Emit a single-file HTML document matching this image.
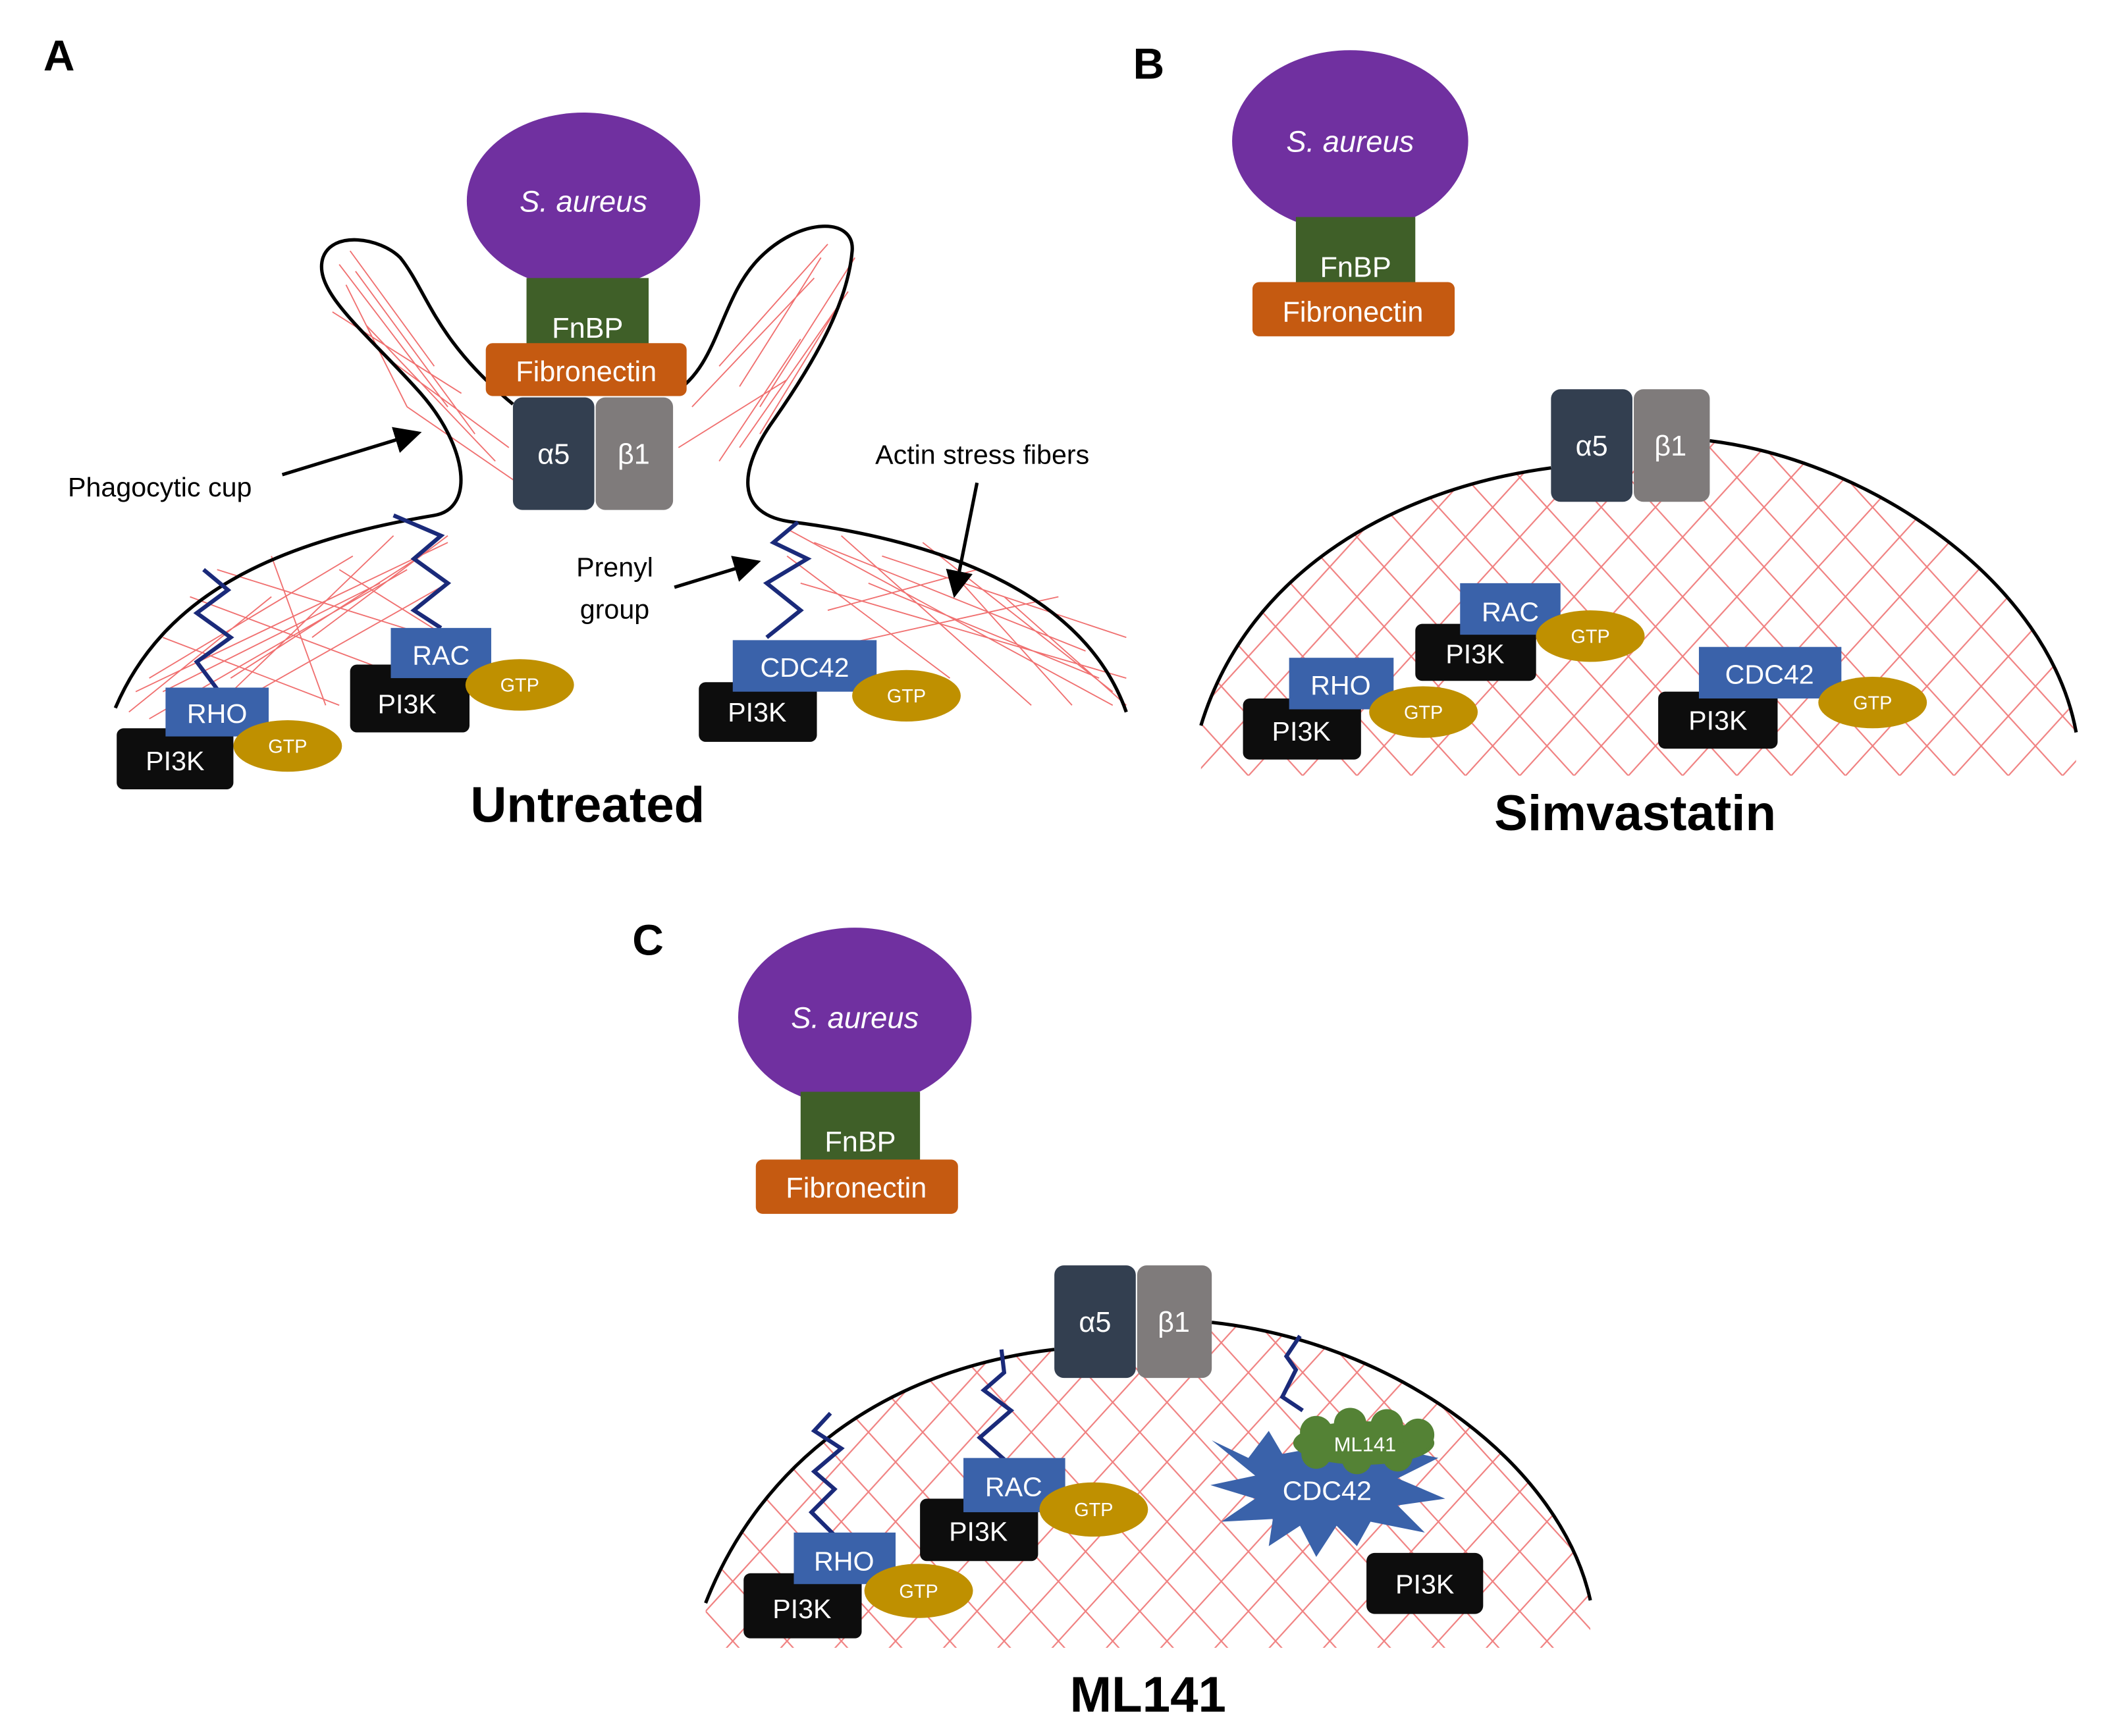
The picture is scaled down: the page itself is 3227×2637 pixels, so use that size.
<!DOCTYPE html>
<html><head><meta charset="utf-8"><style>
html,body{margin:0;padding:0;background:#fff}
svg{display:block}
text{font-family:"Liberation Sans",sans-serif}
</style></head><body>
<svg width="3227" height="2637" viewBox="0 0 1566 1280" preserveAspectRatio="none" xmlns="http://www.w3.org/2000/svg">
<defs>
<pattern id="hx" width="40" height="40" patternUnits="userSpaceOnUse" patternTransform="scale(1,1.1)">
<path d="M0,0 L40,40 M40,0 L0,40" stroke="#f08080" stroke-width="1"/>
</pattern>
<clipPath id="cb"><path d="M885,535 C920,420 1030,360 1143,345 L1260,325 C1380,340 1510,430 1530,540 L1530,572 L885,572 Z"/></clipPath>
<clipPath id="cc"><path d="M520,1182 C560,1080 650,1010 777,995 L893,975 C1030,990 1150,1080 1172,1180 L1172,1215 L520,1215 Z"/></clipPath>
<marker id="ar" markerWidth="8" markerHeight="8" refX="6" refY="4" orient="auto" markerUnits="strokeWidth"><path d="M0,0 L8,4 L0,8 Z" fill="#000"/></marker>
</defs>

<!-- PANEL A -->
<text x="32" y="52" font-size="32" font-weight="bold">A</text>
<g stroke="#f07070" stroke-width="0.9" fill="none">
<path d="M250,195 L330,300 M262,200 L350,320 M245,230 L340,290 M270,240 L365,340 M255,210 L300,300 M280,260 L375,330 M300,300 L380,355 M258,185 L320,270"/>
<path d="M100,510 L330,400 M110,530 L300,420 M120,470 L250,520 M140,440 L300,500 M160,420 L320,470 M180,515 L330,430 M200,410 L240,520 M110,500 L260,410 M230,470 L330,395 M95,525 L200,440 M150,530 L290,395 M250,420 L330,470 M120,510 L280,430 M170,500 L310,410"/>
<path d="M630,190 L560,300 M610,180 L530,270 M625,215 L545,330 M600,205 L510,300 M590,250 L530,340 M580,280 L500,330 M615,230 L560,320 M605,190 L545,285"/>
<path d="M580,390 L820,520 M600,400 L800,480 M590,430 L830,500 M620,395 L760,520 M650,410 L830,470 M700,420 L790,520 M580,410 L700,500 M610,450 L720,420 M680,400 L820,510 M740,440 L830,520 M600,480 L780,440 M640,430 L810,500"/>
</g>
<path d="M85,522 C120,440 200,400 320,380 C350,375 345,330 310,290 C270,245 230,215 238,190 C245,170 280,175 295,190 C315,215 320,250 378,298" fill="none" stroke="#000" stroke-width="2.5"/>
<path d="M496,290 C530,270 530,220 560,190 C590,160 630,160 628,185 C625,220 605,260 570,310 C545,345 540,380 585,385 C700,400 800,440 830,525" fill="none" stroke="#000" stroke-width="2.5"/>
<g fill="none" stroke="#1a2a7a" stroke-width="3">
<polyline points="160,508 145,488 170,470 145,452 168,435 150,420"/>
<polyline points="325,463 305,450 330,430 305,412 325,395 290,380"/>
<polyline points="565,470 590,450 565,430 595,412 570,400 588,385"/>
</g>
<ellipse cx="430" cy="148" rx="86" ry="65" fill="#7030a0"/>
<text x="430" y="156" font-size="22" font-style="italic" fill="#fff" text-anchor="middle">S. aureus</text>
<rect x="388" y="205" width="90" height="52" fill="#3f5f28"/>
<text x="433" y="249" font-size="21" fill="#fff" text-anchor="middle">FnBP</text>
<rect x="358" y="253" width="148" height="39" rx="5" fill="#c55a11"/>
<text x="432" y="281" font-size="21" fill="#fff" text-anchor="middle">Fibronectin</text>
<rect x="378" y="293" width="60" height="83" rx="7" fill="#333f50"/>
<rect x="439" y="293" width="57" height="83" rx="7" fill="#7f7b7b"/>
<text x="408" y="342" font-size="21" fill="#fff" text-anchor="middle">α5</text>
<text x="467" y="342" font-size="21" fill="#fff" text-anchor="middle">β1</text>

<rect x="86" y="537" width="86" height="45" rx="5" fill="#0d0d0d"/>
<text x="129" y="568" font-size="20" fill="#fff" text-anchor="middle">PI3K</text>
<rect x="122" y="507" width="76" height="36" fill="#3a62aa"/>
<text x="160" y="533" font-size="20" fill="#fff" text-anchor="middle">RHO</text>
<ellipse cx="212" cy="550" rx="40" ry="19" fill="#bf9000"/>
<text x="212" y="555" font-size="14" fill="#fff" text-anchor="middle">GTP</text>

<rect x="258" y="490" width="88" height="50" rx="5" fill="#0d0d0d"/>
<text x="300" y="526" font-size="20" fill="#fff" text-anchor="middle">PI3K</text>
<rect x="288" y="463" width="74" height="37" fill="#3a62aa"/>
<text x="325" y="490" font-size="20" fill="#fff" text-anchor="middle">RAC</text>
<ellipse cx="383" cy="505" rx="40" ry="19" fill="#bf9000"/>
<text x="383" y="510" font-size="14" fill="#fff" text-anchor="middle">GTP</text>

<rect x="515" y="503" width="87" height="44" rx="5" fill="#0d0d0d"/>
<text x="558" y="532" font-size="20" fill="#fff" text-anchor="middle">PI3K</text>
<rect x="540" y="472" width="106" height="38" fill="#3a62aa"/>
<text x="593" y="499" font-size="20" fill="#fff" text-anchor="middle">CDC42</text>
<ellipse cx="668" cy="513" rx="40" ry="19" fill="#bf9000"/>
<text x="668" y="518" font-size="14" fill="#fff" text-anchor="middle">GTP</text>

<text x="433" y="606" font-size="37" font-weight="bold" text-anchor="middle">Untreated</text>
<text x="50" y="366" font-size="20">Phagocytic cup</text>
<line x1="208" y1="350" x2="306" y2="320" stroke="#000" stroke-width="2.5" marker-end="url(#ar)"/>
<text x="645" y="342" font-size="20">Actin stress fibers</text>
<line x1="720" y1="356" x2="704" y2="436" stroke="#000" stroke-width="2.5" marker-end="url(#ar)"/>
<text x="453" y="425" font-size="20" text-anchor="middle">Prenyl</text>
<text x="453" y="456" font-size="20" text-anchor="middle">group</text>
<line x1="497" y1="433" x2="556" y2="415" stroke="#000" stroke-width="2.5" marker-end="url(#ar)"/>

<!-- PANEL B -->
<text x="835" y="58" font-size="32" font-weight="bold">B</text>
<rect x="880" y="320" width="660" height="260" fill="url(#hx)" clip-path="url(#cb)"/>
<path d="M885,535 C920,420 1030,360 1143,345 M1260,325 C1380,340 1510,430 1530,540" fill="none" stroke="#000" stroke-width="2.5"/>
<ellipse cx="995" cy="104" rx="87" ry="67" fill="#7030a0"/>
<text x="995" y="112" font-size="22" font-style="italic" fill="#fff" text-anchor="middle">S. aureus</text>
<rect x="955" y="160" width="88" height="52" fill="#3f5f28"/>
<text x="999" y="204" font-size="21" fill="#fff" text-anchor="middle">FnBP</text>
<rect x="923" y="208" width="149" height="40" rx="5" fill="#c55a11"/>
<text x="997" y="237" font-size="21" fill="#fff" text-anchor="middle">Fibronectin</text>
<rect x="1143" y="287" width="60" height="83" rx="7" fill="#333f50"/>
<rect x="1204" y="287" width="56" height="83" rx="7" fill="#7f7b7b"/>
<text x="1173" y="336" font-size="21" fill="#fff" text-anchor="middle">α5</text>
<text x="1231" y="336" font-size="21" fill="#fff" text-anchor="middle">β1</text>

<rect x="916" y="515" width="87" height="45" rx="5" fill="#0d0d0d"/>
<text x="959" y="546" font-size="20" fill="#fff" text-anchor="middle">PI3K</text>
<rect x="950" y="485" width="77" height="38" fill="#3a62aa"/>
<text x="988" y="512" font-size="20" fill="#fff" text-anchor="middle">RHO</text>
<ellipse cx="1049" cy="525" rx="40" ry="19" fill="#bf9000"/>
<text x="1049" y="530" font-size="14" fill="#fff" text-anchor="middle">GTP</text>

<rect x="1043" y="460" width="89" height="42" rx="5" fill="#0d0d0d"/>
<text x="1087" y="489" font-size="20" fill="#fff" text-anchor="middle">PI3K</text>
<rect x="1076" y="430" width="74" height="38" fill="#3a62aa"/>
<text x="1113" y="458" font-size="20" fill="#fff" text-anchor="middle">RAC</text>
<ellipse cx="1172" cy="469" rx="40" ry="19" fill="#bf9000"/>
<text x="1172" y="474" font-size="14" fill="#fff" text-anchor="middle">GTP</text>

<rect x="1222" y="510" width="88" height="42" rx="5" fill="#0d0d0d"/>
<text x="1266" y="538" font-size="20" fill="#fff" text-anchor="middle">PI3K</text>
<rect x="1252" y="477" width="105" height="38" fill="#3a62aa"/>
<text x="1304" y="504" font-size="20" fill="#fff" text-anchor="middle">CDC42</text>
<ellipse cx="1380" cy="518" rx="40" ry="19" fill="#bf9000"/>
<text x="1380" y="523" font-size="14" fill="#fff" text-anchor="middle">GTP</text>
<text x="1205" y="612" font-size="37" font-weight="bold" text-anchor="middle">Simvastatin</text>

<!-- PANEL C -->
<text x="466" y="704" font-size="32" font-weight="bold">C</text>
<rect x="515" y="960" width="665" height="260" fill="url(#hx)" clip-path="url(#cc)"/>
<path d="M520,1182 C560,1080 650,1010 777,995 M893,975 C1030,990 1150,1080 1172,1180" fill="none" stroke="#000" stroke-width="2.5"/>
<ellipse cx="630" cy="750" rx="86" ry="66" fill="#7030a0"/>
<text x="630" y="758" font-size="22" font-style="italic" fill="#fff" text-anchor="middle">S. aureus</text>
<rect x="590" y="805" width="88" height="52" fill="#3f5f28"/>
<text x="634" y="849" font-size="21" fill="#fff" text-anchor="middle">FnBP</text>
<rect x="557" y="855" width="149" height="40" rx="5" fill="#c55a11"/>
<text x="631" y="883" font-size="21" fill="#fff" text-anchor="middle">Fibronectin</text>
<rect x="777" y="933" width="60" height="83" rx="7" fill="#333f50"/>
<rect x="838" y="933" width="55" height="83" rx="7" fill="#7f7b7b"/>
<text x="807" y="982" font-size="21" fill="#fff" text-anchor="middle">α5</text>
<text x="865" y="982" font-size="21" fill="#fff" text-anchor="middle">β1</text>
<g fill="none" stroke="#1a2a7a" stroke-width="3">
<polyline points="615,1132 598,1115 615,1098 600,1085 620,1068 600,1055 612,1042"/>
<polyline points="740,1076 722,1060 745,1040 725,1025 740,1012 738,995"/>
<polyline points="960,1040 945,1030 955,1010 948,1000 958,985"/>
</g>
<rect x="548" y="1160" width="87" height="48" rx="5" fill="#0d0d0d"/>
<text x="591" y="1193" font-size="20" fill="#fff" text-anchor="middle">PI3K</text>
<rect x="585" y="1130" width="75" height="38" fill="#3a62aa"/>
<text x="622" y="1158" font-size="20" fill="#fff" text-anchor="middle">RHO</text>
<ellipse cx="677" cy="1173" rx="40" ry="20" fill="#bf9000"/>
<text x="677" y="1178" font-size="14" fill="#fff" text-anchor="middle">GTP</text>
<rect x="678" y="1105" width="87" height="46" rx="5" fill="#0d0d0d"/>
<text x="721" y="1136" font-size="20" fill="#fff" text-anchor="middle">PI3K</text>
<rect x="710" y="1075" width="75" height="40" fill="#3a62aa"/>
<text x="747" y="1103" font-size="20" fill="#fff" text-anchor="middle">RAC</text>
<ellipse cx="806" cy="1113" rx="40" ry="20" fill="#bf9000"/>
<text x="806" y="1118" font-size="14" fill="#fff" text-anchor="middle">GTP</text>
<polygon points="893,1062 920,1075 935,1055 945,1072 1000,1062 1060,1075 1030,1090 1065,1105 1030,1110 1050,1130 1010,1122 1000,1140 985,1125 970,1148 958,1125 935,1140 938,1120 900,1122 925,1105 892,1095 925,1088" fill="#3a62aa"/>
<text x="978" y="1106" font-size="20" fill="#fff" text-anchor="middle">CDC42</text>
<g fill="#548235">
<ellipse cx="1005" cy="1064" rx="52" ry="16"/>
<circle cx="970" cy="1056" r="12"/><circle cx="995" cy="1050" r="12"/><circle cx="1022" cy="1051" r="12"/><circle cx="1045" cy="1058" r="12"/>
<circle cx="970" cy="1072" r="11"/><circle cx="1000" cy="1076" r="11"/><circle cx="1030" cy="1074" r="11"/>
</g>
<text x="1006" y="1070" font-size="15" fill="#fff" text-anchor="middle">ML141</text>
<rect x="1007" y="1145" width="86" height="45" rx="6" fill="#0d0d0d"/>
<text x="1050" y="1175" font-size="20" fill="#fff" text-anchor="middle">PI3K</text>
<text x="846" y="1262" font-size="37" font-weight="bold" text-anchor="middle">ML141</text>
</svg>
</body></html>
